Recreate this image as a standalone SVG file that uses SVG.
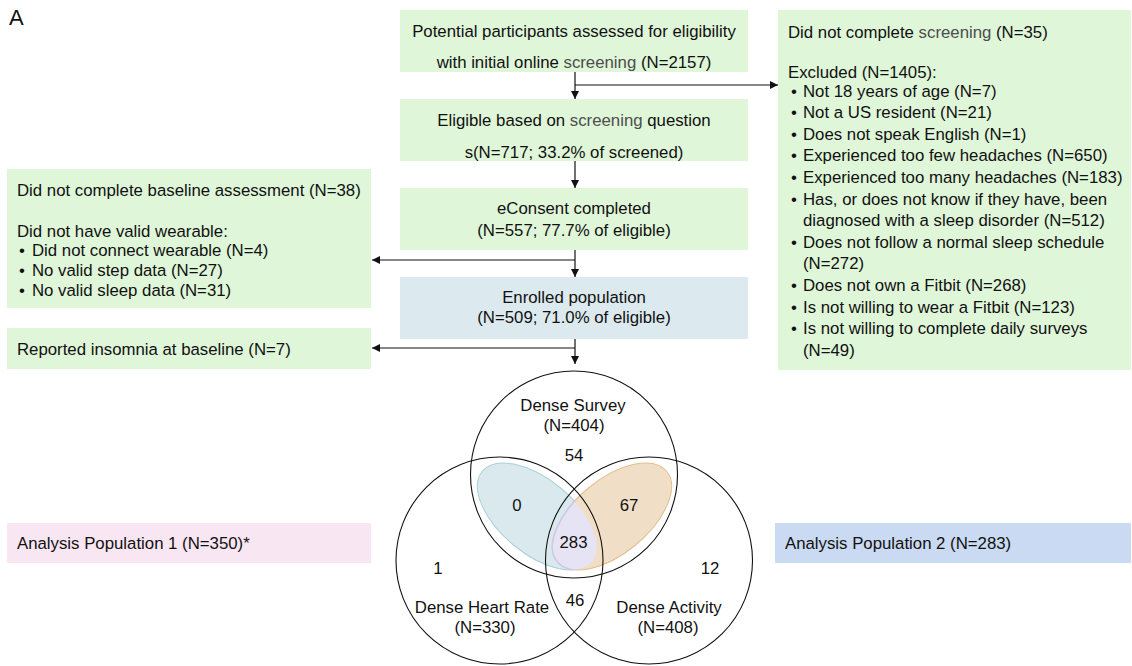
<svg xmlns="http://www.w3.org/2000/svg" width="1132" height="666" viewBox="0 0 1132 666">
<style>
text{font-family:"Liberation Sans",Arial,sans-serif;font-size:16.8px;fill:#111}
.c{text-anchor:middle}
.g{fill:#4d4d4d}
.green{fill:#dff6d9}
.line{stroke:#111;stroke-width:1.2;fill:none}
.circ{fill:none;stroke:#111;stroke-width:1.1}
</style>
<defs>
<marker id="ah" viewBox="0 0 10 10" refX="10" refY="5" markerWidth="8" markerHeight="8" markerUnits="userSpaceOnUse" orient="auto">
<path d="M0,0 L10,5 L0,10 z" fill="#111"/>
</marker>
<clipPath id="clipBlue"><ellipse cx="0" cy="0" rx="71" ry="37" transform="translate(537,516.5) rotate(39.6)"/></clipPath>
</defs>
<rect width="1132" height="666" fill="#fff"/>
<text x="9" y="25" style="font-size:22px">A</text>

<g id="screened">
<rect class="green" x="400" y="10" width="348" height="62"/>
<text class="c" x="574" y="36.5">Potential participants assessed for eligibility</text>
<text class="c" x="574" y="67.5">with initial online <tspan class="g">screening</tspan> (N=2157)</text>
</g>
<g id="eligible">
<rect class="green" x="400" y="99" width="348" height="62"/>
<text class="c" x="574" y="126">Eligible based on <tspan class="g">screening</tspan> question</text>
<text class="c" x="574" y="157.5">s(N=717; 33.2% of screened)</text>
</g>
<g id="econsent">
<rect class="green" x="400" y="188" width="348" height="62"/>
<text class="c" x="574" y="214">eConsent completed</text>
<text class="c" x="574" y="235.5">(N=557; 77.7% of eligible)</text>
</g>
<g id="enrolled">
<rect x="400" y="277" width="348" height="62" fill="#dce9ef"/>
<text class="c" x="574" y="303">Enrolled population</text>
<text class="c" x="574" y="323">(N=509; 71.0% of eligible)</text>
</g>
<g id="excluded">
<rect class="green" x="778" y="10" width="353" height="360"/>
<text x="788" y="37.5">Did not complete <tspan class="g">screening</tspan> (N=35)</text>
<text x="788" y="77.5">Excluded (N=1405):</text>
<text x="791" y="96.5">•</text><text x="803" y="96.5">Not 18 years of age (N=7)</text>
<text x="791" y="118.1">•</text><text x="803" y="118.1">Not a US resident (N=21)</text>
<text x="791" y="139.7">•</text><text x="803" y="139.7">Does not speak English (N=1)</text>
<text x="791" y="161.3">•</text><text x="803" y="161.3">Experienced too few headaches (N=650)</text>
<text x="791" y="182.9">•</text><text x="803" y="182.9">Experienced too many headaches (N=183)</text>
<text x="791" y="204.5">•</text><text x="803" y="204.5">Has, or does not know if they have, been</text>
<text x="803" y="226.1">diagnosed with a sleep disorder (N=512)</text>
<text x="791" y="247.7">•</text><text x="803" y="247.7">Does not follow a normal sleep schedule</text>
<text x="803" y="269.3">(N=272)</text>
<text x="791" y="290.9">•</text><text x="803" y="290.9">Does not own a Fitbit (N=268)</text>
<text x="791" y="312.5">•</text><text x="803" y="312.5">Is not willing to wear a Fitbit (N=123)</text>
<text x="791" y="334.1">•</text><text x="803" y="334.1">Is not willing to complete daily surveys</text>
<text x="803" y="355.7">(N=49)</text>
</g>
<g id="baseline">
<rect class="green" x="7" y="169" width="364" height="139"/>
<text x="17" y="195.5">Did not complete baseline assessment (N=38)</text>
<text x="17" y="236.5">Did not have valid wearable:</text>
<text x="19" y="255.5">•</text><text x="32" y="255.5">Did not connect wearable (N=4)</text>
<text x="19" y="275.5">•</text><text x="32" y="275.5">No valid step data (N=27)</text>
<text x="19" y="295.5">•</text><text x="32" y="295.5">No valid sleep data (N=31)</text>
</g>
<g id="insomnia">
<rect class="green" x="7" y="328" width="364" height="41"/>
<text x="17" y="354.5">Reported insomnia at baseline (N=7)</text>
</g>
<g id="analysis1">
<rect x="7" y="523" width="364" height="40" fill="#f9e6f3"/>
<text x="17" y="549">Analysis Population 1 (N=350)*</text>
</g>
<g id="analysis2">
<rect x="775" y="523" width="356" height="40" fill="#c9daf2"/>
<text x="785" y="549">Analysis Population 2 (N=283)</text>
</g>

<g id="connectors">
<line class="line" x1="575" y1="72" x2="575" y2="99" marker-end="url(#ah)"/>
<line class="line" x1="575" y1="85" x2="778" y2="85" marker-end="url(#ah)"/>
<line class="line" x1="575" y1="161" x2="575" y2="188" marker-end="url(#ah)"/>
<line class="line" x1="575" y1="250" x2="575" y2="277" marker-end="url(#ah)"/>
<line class="line" x1="575" y1="260" x2="372" y2="260" marker-end="url(#ah)"/>
<line class="line" x1="575" y1="339" x2="575" y2="364" marker-end="url(#ah)"/>
<line class="line" x1="575" y1="348" x2="372" y2="348" marker-end="url(#ah)"/>
</g>

<g id="venn">
<ellipse cx="0" cy="0" rx="71" ry="37" transform="translate(537,516.5) rotate(39.6)" fill="#d9e9ee" stroke="#a9d0d6" stroke-width="1"/>
<ellipse cx="0" cy="0" rx="71" ry="37" transform="translate(612,516.5) rotate(-39.6)" fill="#f0dfc6" stroke="#e3bd8f" stroke-width="1"/>
<g clip-path="url(#clipBlue)">
<ellipse cx="0" cy="0" rx="71" ry="37" transform="translate(612,516.5) rotate(-39.6)" fill="#e6e3f4" stroke="#cfc8e6" stroke-width="1.5"/>
</g>
<circle class="circ" cx="574" cy="474.5" r="103.5"/>
<circle class="circ" cx="499.5" cy="560.5" r="103.5"/>
<circle class="circ" cx="649" cy="560.5" r="103.5"/>
<text class="c" x="573" y="411">Dense Survey</text>
<text class="c" x="574" y="431">(N=404)</text>
<text class="c" x="574" y="461">54</text>
<text class="c" x="517" y="511">0</text>
<text class="c" x="629" y="511">67</text>
<text class="c" x="573.5" y="548">283</text>
<text class="c" x="438" y="574">1</text>
<text class="c" x="710" y="574">12</text>
<text class="c" x="575" y="606">46</text>
<text class="c" x="482" y="613">Dense Heart Rate</text>
<text class="c" x="485" y="633">(N=330)</text>
<text class="c" x="669" y="613">Dense Activity</text>
<text class="c" x="668" y="633">(N=408)</text>
</g>
</svg>
